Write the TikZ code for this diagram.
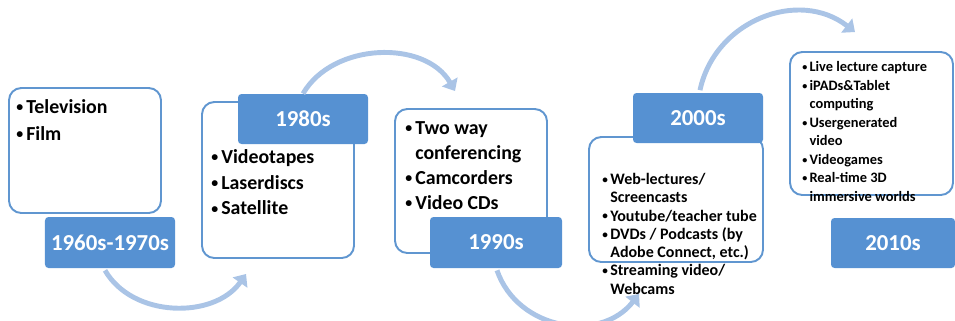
\documentclass[tikz,border=0pt]{standalone}
\usepackage{fontspec}
\setmainfont{Carlito}
\usepackage{tikz}
\usetikzlibrary{arrows.meta,positioning,calc}
\definecolor{eraBlue}{RGB}{86,145,210}
\definecolor{eraEdge}{RGB}{96,150,208}
\definecolor{eraFlow}{RGB}{170,196,230}
\newcommand{\itm}{\makebox[0.5em][l]{\raisebox{0.08em}{\scalebox{0.7}{\textbullet}}}}
\newcommand{\cnt}{\hspace*{0.5em}}

\begin{document}
\begin{tikzpicture}[
    panel/.style = {rectangle, draw = eraEdge, line width = 1.1pt, fill = white,
      rounded corners = 7pt, inner sep = 0pt},
    era/.style = {rectangle, fill = eraBlue, rounded corners = 2pt, inner sep = 0pt,
      text = white, font = \fontsize{13}{15}\selectfont\bfseries},
    items/.style = {anchor = north west, inner sep = 0pt, align = left},
    flow/.style = {eraFlow, line width = 2.8pt, -{Triangle[length = 6pt, width = 10pt]}}
  ]
  \useasboundingbox (0,0) rectangle (19.1,-6.4);

  \node[panel, minimum width = 3.04cm, minimum height = 2.50cm] (box1) at (1.70,-3.01) {};
  \node[panel, minimum width = 3.04cm, minimum height = 3.12cm] (box2) at (5.56,-3.60) {};
  \node[panel, minimum width = 3.04cm, minimum height = 2.88cm] (box3) at (9.42,-3.62) {};
  \node[panel, minimum width = 3.48cm, minimum height = 2.50cm] (box4) at (13.52,-3.99) {};
  \node[panel, minimum width = 3.26cm, minimum height = 2.86cm] (box5) at (17.43,-2.47) {};

  \node[era, minimum width = 2.60cm, minimum height = 1.02cm] (era1) at (2.20,-4.85) {1960s-1970s};
  \node[era, minimum width = 2.60cm, minimum height = 1.00cm] (era2) at (6.06,-2.38) {1980s};
  \node[era, minimum width = 2.64cm, minimum height = 1.02cm] (era3) at (9.92,-4.85) {1990s};
  \node[era, minimum width = 2.60cm, minimum height = 1.00cm] (era4) at (13.96,-2.36) {2000s};
  \node[era, minimum width = 2.48cm, minimum height = 1.00cm] (era5) at (17.86,-4.86) {2010s};

  \coordinate (tip2) at ($(box2.south west)+(0.90,-0.30)$);
  \coordinate (tip3) at ($(box3.north)+(-0.32,0.34)$);
  \coordinate (tip4) at ($(box4.south west)+(1.02,-0.62)$);
  \coordinate (tip5) at ($(box5.north)+(-0.33,0.38)$);
  \draw[flow] ($(era1.south)+(-0.10,-0.04)$) to[out=-60, in=-125] (tip2);
  \draw[flow] (era2.north) to[out=60, in=120] (tip3);
  \draw[flow] ($(era3.south)+(0.02,-0.04)$) to[out=-71, in=-128, looseness=1.12] (tip4);
  \draw[flow] ($(era4.north)+(0.04,0.05)$) to[out=78, in=142, looseness=1.1] (tip5);

  \node[items, font = \fontsize{11.3}{15.3}\selectfont\bfseries] (list1) at (0.32,-1.98)
    {\itm Television\\ \itm Film};
  \node[items, font = \fontsize{11.3}{14.7}\selectfont\bfseries] (list2) at (4.22,-2.98)
    {\itm Videotapes\\ \itm Laserdiscs\\ \itm Satellite};
  \node[items, font = \fontsize{11.3}{14.2}\selectfont\bfseries] (list3) at (8.10,-2.42)
    {\itm Two way\\ \cnt conferencing\\ \itm Camcorders\\ \itm Video CDs};
  \node[items, font = \fontsize{9.1}{10.4}\selectfont\bfseries] (list4) at (12.04,-3.46)
    {\itm Web-lectures/\\ \cnt Screencasts\\ \itm Youtube/teacher tube\\
     \itm DVDs / Podcasts (by\\ \cnt Adobe Connect, etc.)\\
     \itm Streaming video/\\ \cnt Webcams};
  \node[items, font = \fontsize{8.2}{10.5}\selectfont\bfseries] (list5) at (16.04,-1.23)
    {\itm Live lecture capture\\ \itm iPADs\&Tablet\\ \cnt computing\\
     \itm Usergenerated\\ \cnt video\\ \itm Videogames\\
     \itm Real-time 3D\\ \cnt immersive worlds};
\end{tikzpicture}
\end{document}
